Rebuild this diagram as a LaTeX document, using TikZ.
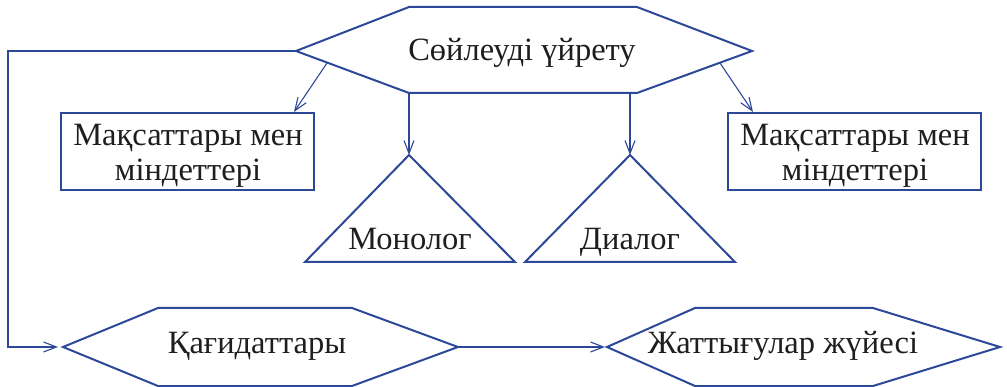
\documentclass[tikz,border=0pt]{standalone}
\usepackage{fontspec}
\setmainfont{Liberation Serif}
\usetikzlibrary{arrows.meta}
\definecolor{lineblue}{RGB}{44,72,152}
\definecolor{txt}{RGB}{30,30,30}
\tikzset{
  shapeline/.style={draw=lineblue, line width=2pt, line join=miter},
  conn/.style={draw=lineblue, line width=1.1pt, -{Straight Barb[length=13pt,width=10pt,line width=1.1pt]}},
  lbl/.style={text=txt, font=\fontsize{32.5}{37}\selectfont, inner sep=0pt, anchor=base},
  boxnode/.style={shapeline, minimum width=253pt, minimum height=77pt, inner sep=0pt}
}
\begin{document}
\begin{tikzpicture}[x=1pt,y=-1pt]
\useasboundingbox (0,0) rectangle (1007,387);
% top hexagon
\coordinate (tw) at (296,51);
\coordinate (tnw) at (409,7);
\coordinate (tne) at (637,7);
\coordinate (te) at (752,51);
\coordinate (tse) at (637,93);
\coordinate (tsw) at (409,93);
\draw[shapeline] (tw) -- (tnw) -- (tne) -- (te) -- (tse) -- (tsw) -- cycle;
\node[lbl] (top) at (522,61) {Сөйлеуді үйрету};
% boxes
\node[boxnode] (lbox) at (187.5,151.5) {};
\node[lbl] (lbox1) at (188,146) {Мақсаттары мен};
\node[lbl] (lbox2) at (188,181) {міндеттері};
\node[boxnode] (rbox) at (854.5,152) {};
\node[lbl] (rbox1) at (855,146) {Мақсаттары мен};
\node[lbl] (rbox2) at (855,181) {міндеттері};
% triangles
\coordinate (m-apex) at (409,155);
\coordinate (m-l) at (305,262);
\coordinate (m-r) at (515,262);
\draw[shapeline] (m-apex) -- (m-r) -- (m-l) -- cycle;
\node[lbl] (mono) at (410,250) {Монолог};
\coordinate (d-apex) at (630,155);
\coordinate (d-l) at (525,262);
\coordinate (d-r) at (735,262);
\draw[shapeline] (d-apex) -- (d-r) -- (d-l) -- cycle;
\node[lbl] (dia) at (630,250) {Диалог};
% bottom left hexagon
\coordinate (bw) at (63,347);
\coordinate (bnw) at (158,308);
\coordinate (bne) at (352,308);
\coordinate (be) at (458,347);
\coordinate (bse) at (352,386);
\coordinate (bsw) at (158,386);
\draw[shapeline] (bw) -- (bnw) -- (bne) -- (be) -- (bse) -- (bsw) -- cycle;
\node[lbl] (kag) at (257,353) {Қағидаттары};
% bottom right hexagon
\coordinate (cw) at (607,347);
\coordinate (cnw) at (695,308);
\coordinate (cne) at (873,308);
\coordinate (ce) at (1000,347);
\coordinate (cse) at (873,386);
\coordinate (csw) at (695,386);
\draw[shapeline] (cw) -- (cnw) -- (cne) -- (ce) -- (cse) -- (csw) -- cycle;
\node[lbl] (zhat) at (783,353) {Жаттығулар жүйесі};
% connectors
\coordinate (a1s) at (327,63);
\coordinate (a1e) at (294,112);
\coordinate (a2s) at (720,63);
\coordinate (a2e) at (753,112);
\coordinate (v1) at (409,93);
\coordinate (v2) at (630,93);
\coordinate (c1) at (8,51);
\coordinate (c2) at (8,347);
\coordinate (bwt) at (58,347);
\coordinate (cwt) at (605,347);
\draw[conn] (a1s) -- (a1e);
\draw[conn] (a2s) -- (a2e);
\draw[conn] (v1) -- (m-apex);
\draw[conn] (v2) -- (d-apex);
\draw[conn] (tw) -- (c1) -- (c2) -- (bwt);
\draw[conn] (be) -- (cwt);
\end{tikzpicture}
\end{document}
